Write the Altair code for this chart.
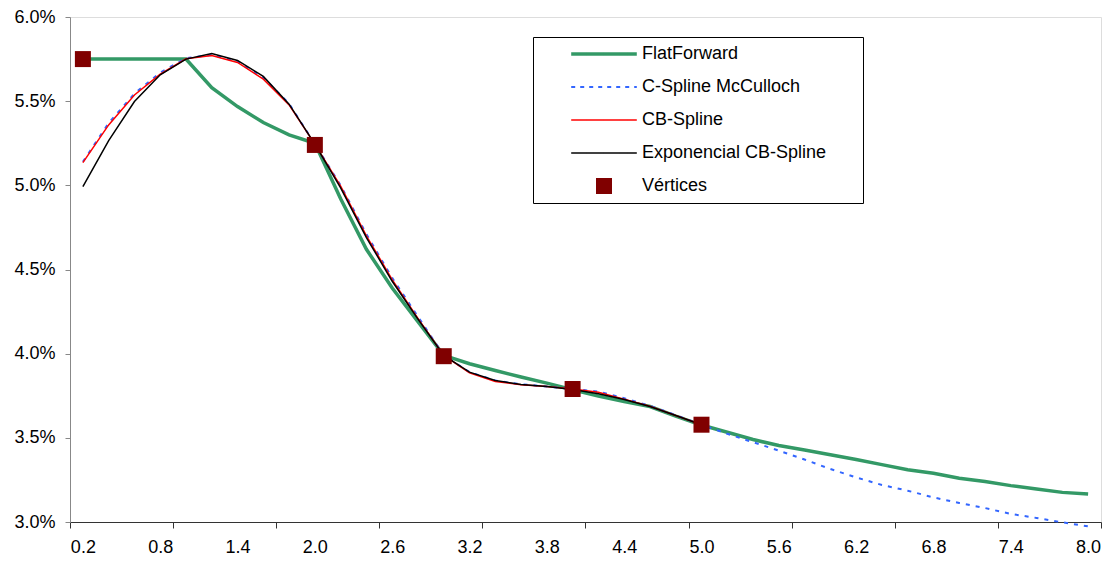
import altair as alt
import pandas as pd

# ---- data ----
X = [0.2, 0.4, 0.6, 0.8, 1.0, 1.2, 1.4, 1.6, 1.8, 2.0,
     2.2, 2.4, 2.6, 2.8, 3.0, 3.2, 3.4, 3.6, 3.8, 4.0,
     4.2, 4.4, 4.6, 4.8, 5.0, 5.2, 5.4, 5.6, 5.8, 6.0,
     6.2, 6.4, 6.6, 6.8, 7.0, 7.2, 7.4, 7.6, 7.8, 8.0]

FLAT = [5.75, 5.75, 5.75, 5.75, 5.75, 5.58, 5.468, 5.373, 5.30, 5.25,
        4.92, 4.62, 4.39, 4.19, 3.99, 3.94, 3.90, 3.861, 3.825, 3.786,
        3.748, 3.716, 3.686, 3.629, 3.576, 3.533, 3.49, 3.454, 3.428, 3.40,
        3.371, 3.341, 3.31, 3.289, 3.26, 3.24, 3.216, 3.196, 3.176, 3.167]

CSPLINE = [5.14, 5.37, 5.545, 5.67, 5.755, 5.775, 5.735, 5.64, 5.485, 5.245,
           5.0, 4.71, 4.45, 4.22, 3.99, 3.89, 3.84, 3.818, 3.805, 3.79,
           3.775, 3.735, 3.69, 3.635, 3.578, 3.524, 3.474, 3.424, 3.371, 3.315,
           3.265, 3.22, 3.186, 3.146, 3.113, 3.083, 3.048, 3.024, 2.998, 2.974]

CBSPLINE = [5.135, 5.359, 5.537, 5.66, 5.752, 5.771, 5.73, 5.631, 5.478, 5.245,
            4.995, 4.70, 4.44, 4.21, 3.99, 3.886, 3.835, 3.815, 3.805, 3.79,
            3.771, 3.73, 3.688, 3.633, 3.578]

EXPCB = [4.992, 5.266, 5.498, 5.657, 5.75, 5.783, 5.742, 5.647, 5.482, 5.245,
         4.985, 4.69, 4.43, 4.205, 3.99, 3.89, 3.841, 3.817, 3.805, 3.787,
         3.762, 3.728, 3.686, 3.633, 3.578]

VERT_X = [0.2, 2.0, 3.0, 4.0, 5.0]
VERT_Y = [5.75, 5.24, 3.985, 3.79, 3.578]

X_LABELS = [0.2, 0.8, 1.4, 2.0, 2.6, 3.2, 3.8, 4.4, 5.0, 5.6, 6.2, 6.8, 7.4, 8.0]
X_TICKS = [0.1, 0.9, 1.7, 2.5, 3.3, 4.1, 4.9, 5.7, 6.5, 7.3, 8.1]
Y_TICKS = [3.0, 3.5, 4.0, 4.5, 5.0, 5.5, 6.0]

NAMES = ["FlatForward", "C-Spline McCulloch", "CB-Spline",
         "Exponencial CB-Spline", "Vértices"]
COLORS = ["#339966", "#3366FF", "#FF0000", "#000000", "#800000"]

# ---- tables ----
def series_df(name, xs, ys):
    return pd.DataFrame({"x": xs[:len(ys)], "y": ys, "series": name})

df_flat = series_df(NAMES[0], X, FLAT)
df_cs = series_df(NAMES[1], X, CSPLINE)
df_cb = series_df(NAMES[2], X, CBSPLINE)
df_exp = series_df(NAMES[3], X, EXPCB)
df_v = pd.DataFrame({"x": VERT_X, "y": VERT_Y, "series": NAMES[4]})

FONT = "Liberation Sans"

xscale = alt.Scale(domain=[0.1, 8.1], nice=False, zero=False)
yscale = alt.Scale(domain=[3.0, 6.0], nice=False, zero=False)
cscale = alt.Scale(domain=NAMES, range=COLORS)

label_axis = alt.Axis(values=X_LABELS, format=".1f", ticks=False, tickSize=0,
                      domain=False, grid=False, labelPadding=16, orient="bottom",
                      labelFont=FONT, labelFontSize=18, labelColor="#000",
                      labelFlush=False, labelOverlap=False, title=None)
tick_axis = alt.Axis(values=X_TICKS, labels=False, ticks=True, tickSize=6,
                     tickColor="#333", domain=True, domainColor="#333",
                     grid=False, orient="bottom", title=None)
y_axis = alt.Axis(values=Y_TICKS, labelExpr="format(datum.value, '.1f') + '%'",
                  tickSize=5, tickColor="#888", domainColor="#888", grid=False,
                  labelPadding=10, labelFont=FONT, labelFontSize=18,
                  labelColor="#000", labelFlush=False, labelOverlap=False,
                  orient="left", title=None)

# an invisible title on the right only widens the legend frame
legend = alt.Legend(
    orient="none", legendX=463, legendY=20, direction="vertical",
    title=".", titleOrient="right", titleColor="transparent", titlePadding=23,
    titleFont=FONT, titleFontSize=18,
    columns=1, padding=8, strokeColor="#000", fillColor="#fff",
    labelFont=FONT, labelFontSize=18, labelColor="#000", labelLimit=600,
    symbolType=alt.ExprRef(expr="datum.value == 'Vértices' ? 'square' : 'M-4.1,0L4.1,0'"),
    symbolSize=256,
    symbolStrokeWidth=alt.ExprRef(expr="datum.value == 'FlatForward' ? 3.5 : datum.value == 'C-Spline McCulloch' ? 2 : datum.value == 'Vértices' ? 0 : 1.5"),
    symbolDash=alt.ExprRef(expr="datum.value == 'C-Spline McCulloch' ? [4, 5] : [1, 0]"),
    symbolFillColor=alt.ExprRef(expr="datum.value == 'Vértices' ? '#800000' : 'transparent'"),
    symbolOffset=54, labelOffset=29, clipHeight=18, rowPadding=15,
)

Y_ENC = alt.Y("y:Q", scale=yscale, axis=y_axis)

flat = alt.Chart(df_flat).mark_line(strokeWidth=3.5).encode(
    x=alt.X("x:Q", scale=xscale, axis=label_axis),
    y=Y_ENC,
    color=alt.Color("series:N", scale=cscale, legend=legend),
)
cs = alt.Chart(df_cs).mark_line(strokeWidth=2, strokeDash=[4, 6]).encode(
    x=alt.X("x:Q", scale=xscale, axis=tick_axis),
    y=Y_ENC,
    color=alt.Color("series:N", scale=cscale, legend=None),
)
cb = alt.Chart(df_cb).mark_line(strokeWidth=1.5).encode(
    x=alt.X("x:Q", scale=xscale, axis=None),
    y=Y_ENC,
    color=alt.Color("series:N", scale=cscale, legend=None),
)
ex = alt.Chart(df_exp).mark_line(strokeWidth=1.5).encode(
    x=alt.X("x:Q", scale=xscale, axis=None),
    y=Y_ENC,
    color=alt.Color("series:N", scale=cscale, legend=None),
)
vt = alt.Chart(df_v).mark_square(size=256, opacity=1, filled=True).encode(
    x=alt.X("x:Q", scale=xscale, axis=None),
    y=Y_ENC,
    color=alt.value("#800000"),
)

chart = alt.layer(flat, cs, cb, ex, vt).resolve_axis(x="independent").properties(
    width=1031, height=505,
    autosize=alt.AutoSizeParams(type="none"),
    padding={"left": 70, "top": 17, "right": 8, "bottom": 40},
    background="#ffffff",
).configure_view(strokeWidth=0, stroke="transparent").configure(font=FONT)

chart.save("out.html", embed_options={"renderer": "svg", "actions": False})
